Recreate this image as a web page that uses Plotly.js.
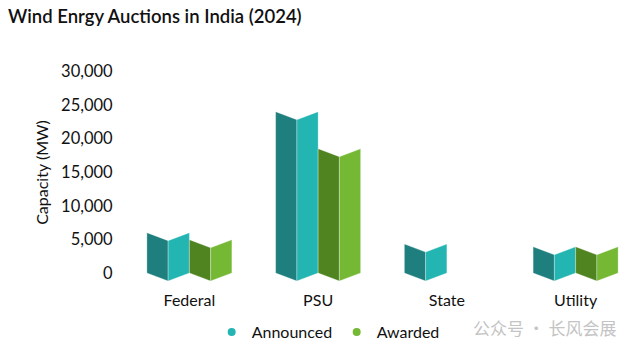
<!DOCTYPE html>
<html>
<head>
<meta charset="utf-8">
<script src="https://cdn.plot.ly/plotly-3.0.1.min.js"></script>
<style>html,body{margin:0;padding:0;background:#fff;}#chart{width:642px;height:355px;}</style>
</head>
<body>
<div id="chart"></div>
<script>
// ---- data ----
const categories = ['Federal', 'PSU', 'State', 'Utility'];
const seriesNames = ['Announced', 'Awarded'];
const announced = [6000, 24000, 4300, 3900];
const awarded = [4950, 18500, 0, 3900];
const yTickVals = [0, 5000, 10000, 15000, 20000, 25000, 30000];

// ---- styles ----
const darkColors = ['#1e7f7e', '#508421'];
const lightColors = ['#22b5b2', '#74b833'];
const W = 642, H = 355;
const margin = {l: 125, r: 2, t: 60, b: 70};
const yRange = [-1786, 31696];
const xRange = [-0.5, 3.5];
const faceW = 0.165;      // width of one face in category units
const dipPx = 8;          // fold depth in pixels
const plotH = H - margin.t - margin.b;
const dip = dipPx * (yRange[1] - yRange[0]) / plotH;

const traces = [];
[announced, awarded].forEach((vals, s) => {
  vals.forEach((v, i) => {
    if (!v) return;
    const L = s === 0 ? i - 2 * faceW : i;
    const M = L + faceW, R = L + 2 * faceW;
    // left (dark) face
    traces.push({
      type: 'scatter', mode: 'lines', fill: 'toself',
      x: [L, M, M, L, L], y: [v, v - dip, -dip, 0, v],
      fillcolor: darkColors[s], line: {width: 0.6, color: 'rgba(255,255,255,0.5)'},
      showlegend: false, hoverinfo: 'skip'
    });
    // right (light) face
    traces.push({
      type: 'scatter', mode: 'lines', fill: 'toself',
      x: [M, R, R, M, M], y: [v - dip, v, 0, -dip, v - dip],
      fillcolor: lightColors[s], line: {width: 0.6, color: 'rgba(255,255,255,0.5)'},
      showlegend: false, hoverinfo: 'skip'
    });
  });
});
// legend entries
seriesNames.forEach((n, s) => {
  traces.push({
    type: 'scatter', mode: 'markers', x: [null], y: [null], name: n,
    marker: {symbol: 'circle', size: 8, color: lightColors[s]}
  });
});

const font = {family: 'Lato, "DejaVu Sans", sans-serif', size: 16, color: '#111'};

const layout = {
  width: W, height: H,
  margin: margin,
  paper_bgcolor: '#fff', plot_bgcolor: '#fff',
  font: font,
  title: {
    text: 'Wind Enrgy Auctions in India (2024)',
    font: {family: 'Lato, sans-serif', size: 18.5, color: '#111', weight: 600},
    xref: 'container', yref: 'container', x: 8 / W, xanchor: 'left', y: 1 - 17 / H, yanchor: 'middle'
  },
  xaxis: {
    range: xRange, tickmode: 'array', tickvals: categories.map((c, i) => i), ticktext: categories,
    showgrid: false, zeroline: false, showline: false,
    ticks: 'outside', ticklen: 1, tickcolor: 'rgba(0,0,0,0)', tickfont: {size: 16},
    fixedrange: true
  },
  yaxis: {
    range: yRange, tickmode: 'array', tickvals: yTickVals,
    tickformat: ',d',
    showgrid: false, zeroline: false, showline: false,
    ticks: 'outside', ticklen: 8, tickcolor: 'rgba(0,0,0,0)', tickfont: {size: 16.5},
    title: {text: 'Capacity (MW)', font: {size: 16}, standoff: 8},
    fixedrange: true
  },
  showlegend: true,
  legend: {
    orientation: 'h', x: 0.411, xanchor: 'center', xref: 'paper',
    y: (H - 332) / H, yref: 'container', yanchor: 'middle',
    font: {size: 16}, itemwidth: 30, traceorder: 'normal',
    entrywidth: 80, entrywidthmode: 'pixels'
  },
  annotations: [{
    text: '公众号 · 长风会展', xref: 'paper', yref: 'paper',
    x: (545 - margin.l) / (W - margin.l - margin.r), y: -(327 - (H - margin.b)) / plotH,
    xanchor: 'center', yanchor: 'middle', showarrow: false,
    font: {family: '"Noto Sans CJK SC", sans-serif', size: 17, color: '#c4c4c4'}
  }]
};

Plotly.newPlot('chart', traces, layout, {displayModeBar: false, staticPlot: true});
</script>
</body>
</html>
